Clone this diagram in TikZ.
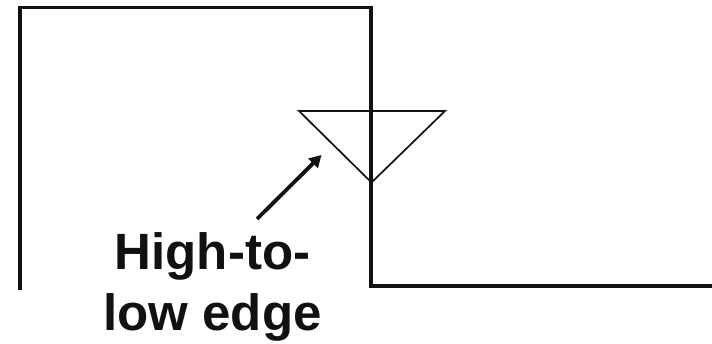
\documentclass[tikz,border=0pt]{standalone}
\usepackage{fontspec}
\usetikzlibrary{arrows.meta}
\setmainfont{Liberation Sans}
\definecolor{ink}{HTML}{111111}
\tikzset{wave/.style={draw=ink,line width=3.6pt,line cap=butt,line join=miter},
tri/.style={draw=ink,line width=1.7pt,line join=miter},
pointer/.style={draw=ink,line width=3.8pt,-{Triangle[length=12pt,width=13pt]}},
lab/.style={font=\fontsize{51pt}{61pt}\selectfont\bfseries,text=ink,align=center,inner sep=0pt}}
\begin{document}
\begin{tikzpicture}[x=1pt,y=-1pt]
\useasboundingbox (0,0) rectangle (712,344);
\coordinate (w1) at (20,290);
\coordinate (w2) at (20,7.5);
\coordinate (w3) at (371,7.5);
\coordinate (w4) at (371,286);
\coordinate (w5) at (712,286);
\draw[wave] (w1)--(w2)--(w3)--(w4)--(w5);
\coordinate (t1) at (299,111);
\coordinate (t2) at (445,111);
\coordinate (t3) at (371.5,182.5);
\draw[tri] (t1)--(t2)--(t3)--cycle;
\node[lab] (label) at (212.5,287) {High-to-\\low edge};
\coordinate (a1) at (257,219);
\coordinate (a2) at (321.5,155);
\draw[pointer] (a1)--(a2);
\end{tikzpicture}
\end{document}
